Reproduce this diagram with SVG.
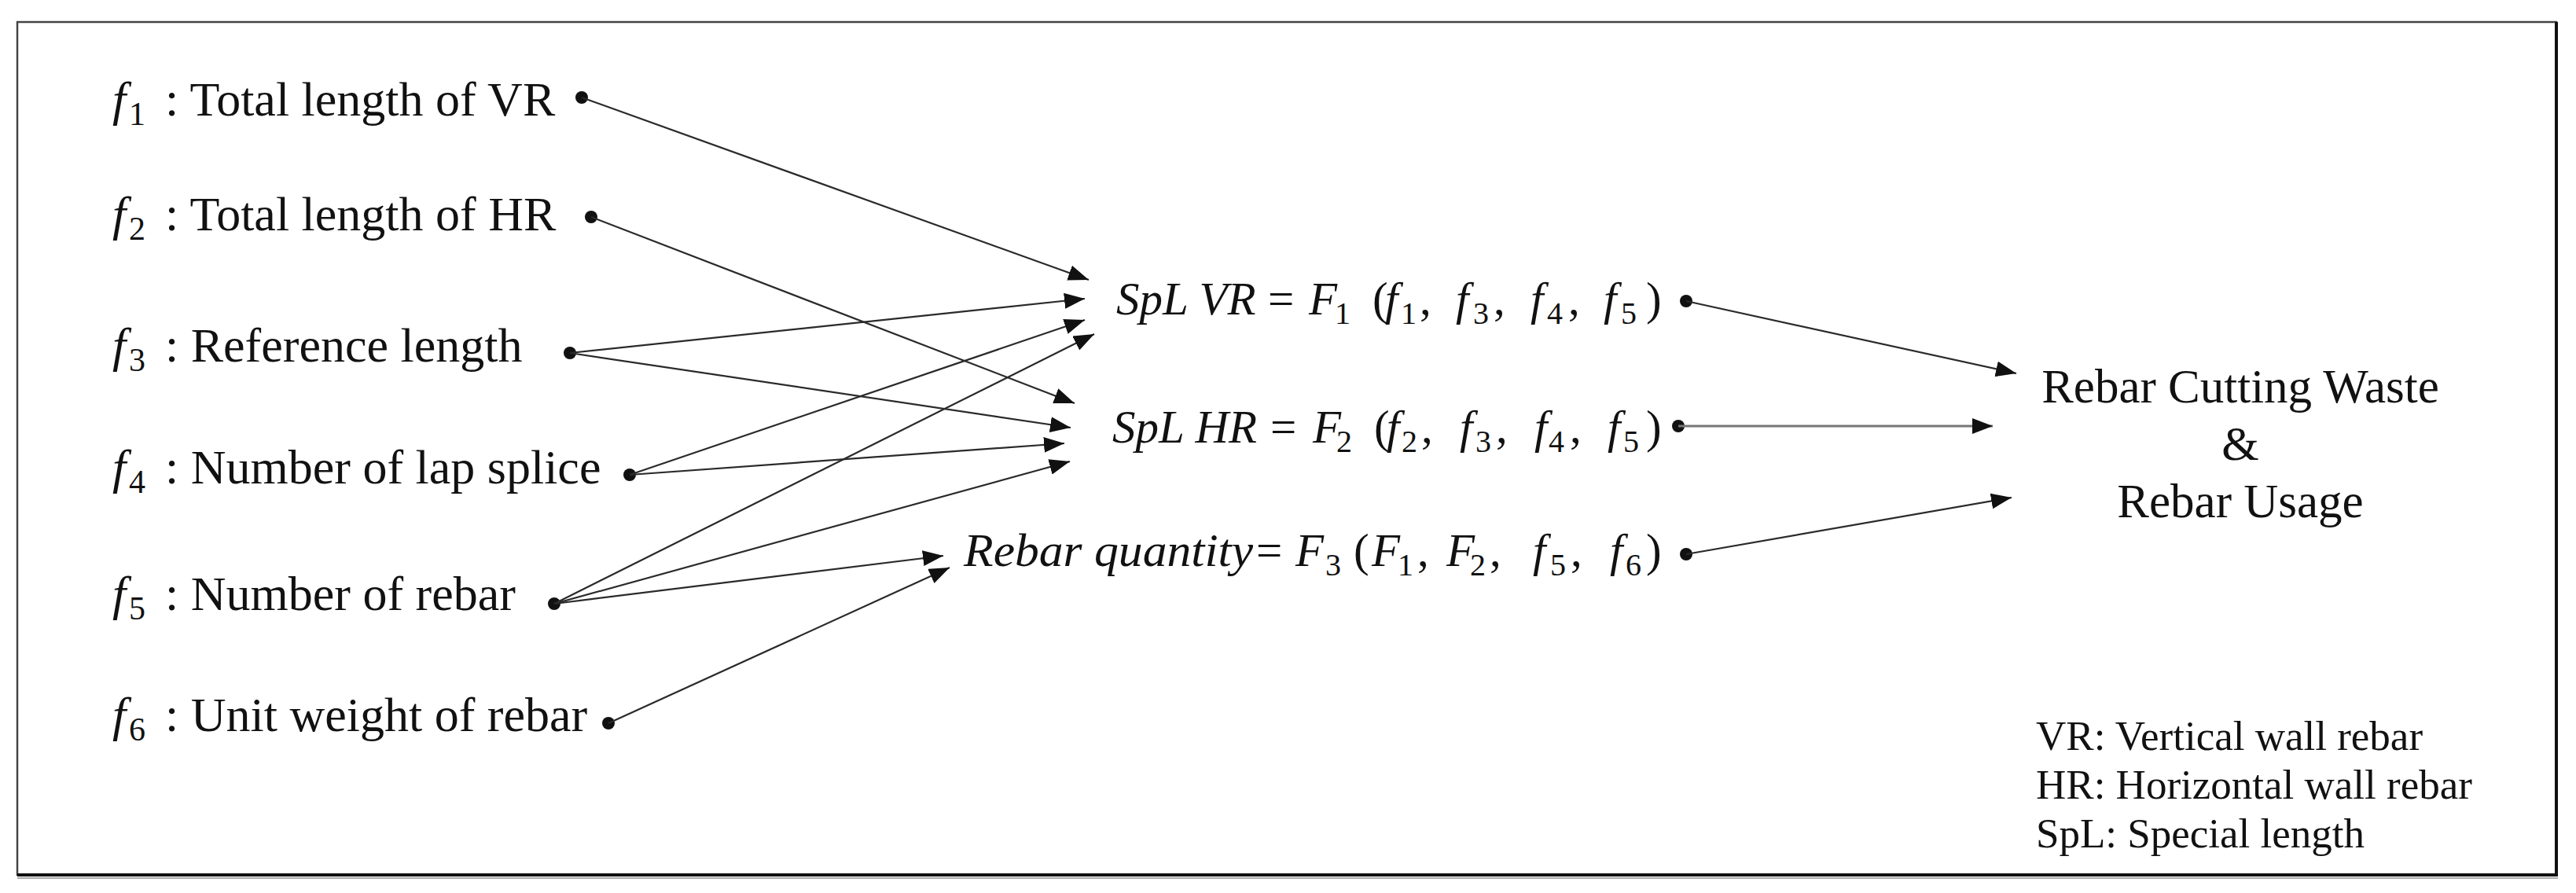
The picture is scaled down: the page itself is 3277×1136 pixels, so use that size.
<svg xmlns="http://www.w3.org/2000/svg" width="3277" height="1136" viewBox="0 0 3277 1136">
<style>
text{font-family:"Liberation Serif","Times New Roman",serif;fill:#111}
.lb{font-size:62px}
.it{font-style:italic}
.sb{font-size:42px}
.fm{font-size:59px}
.fs{font-size:40px}
.out{font-size:61px;text-anchor:middle}
.lg{font-size:53px}
.ln{stroke:#2a2a2a;stroke-width:2.2;fill:none}
.dot{fill:#111}
</style>
<defs>
<marker id="ah" markerUnits="userSpaceOnUse" markerWidth="28" markerHeight="22" refX="26" refY="10" orient="auto">
<path d="M0,0 L26,10 L0,20 z" fill="#111"/>
</marker>
</defs>
<rect x="22" y="28" width="3230" height="1085" fill="#fff" stroke="#444" stroke-width="2.5"/>
<line x1="3252" y1="28" x2="3252" y2="1115" stroke="#111" stroke-width="4"/>
<line x1="22" y1="1113" x2="3254" y2="1113" stroke="#111" stroke-width="4"/>
<line x1="22" y1="1117" x2="3254" y2="1117" stroke="#aaa" stroke-width="2"/>

<g id="f1">
<text class="lb" y="147"><tspan x="143" class="it">f</tspan><tspan x="164" y="159" class="sb">1</tspan><tspan x="210" y="147">: Total length of VR</tspan></text>
<circle class="dot" cx="740" cy="124" r="8"/>
</g>
<g id="f2">
<text class="lb" y="293"><tspan x="143" class="it">f</tspan><tspan x="164" y="305" class="sb">2</tspan><tspan x="210" y="293">: Total length of HR</tspan></text>
<circle class="dot" cx="752" cy="276" r="8"/>
</g>
<g id="f3">
<text class="lb" y="460"><tspan x="143" class="it">f</tspan><tspan x="164" y="472" class="sb">3</tspan><tspan x="210" y="460">: Reference length</tspan></text>
<circle class="dot" cx="725" cy="449" r="8"/>
</g>
<g id="f4">
<text class="lb" y="615"><tspan x="143" class="it">f</tspan><tspan x="164" y="627" class="sb">4</tspan><tspan x="210" y="615">: Number of lap splice</tspan></text>
<circle class="dot" cx="801" cy="604" r="8"/>
</g>
<g id="f5">
<text class="lb" y="776"><tspan x="143" class="it">f</tspan><tspan x="164" y="788" class="sb">5</tspan><tspan x="210" y="776">: Number of rebar</tspan></text>
<circle class="dot" cx="705" cy="768" r="8"/>
</g>
<g id="f6">
<text class="lb" y="930"><tspan x="143" class="it">f</tspan><tspan x="164" y="942" class="sb">6</tspan><tspan x="210" y="930">: Unit weight of rebar</tspan></text>
<circle class="dot" cx="774" cy="920" r="8"/>
</g>

<g id="splvr">
<text class="fm" y="400"><tspan x="1420" class="it">SpL VR</tspan><tspan x="1613">=</tspan><tspan x="1665" class="it">F</tspan><tspan x="1698" y="412" class="fs">1</tspan><tspan x="1746" y="400">(</tspan><tspan x="1762" class="it">f</tspan><tspan x="1782" y="412" class="fs">1</tspan><tspan x="1806" y="400">,</tspan><tspan x="1852" class="it">f</tspan><tspan x="1874" y="412" class="fs">3</tspan><tspan x="1900" y="400">,</tspan><tspan x="1947" class="it">f</tspan><tspan x="1968" y="412" class="fs">4</tspan><tspan x="1995" y="400">,</tspan><tspan x="2040" class="it">f</tspan><tspan x="2062" y="412" class="fs">5</tspan><tspan x="2094" y="400">)</tspan></text>
<circle class="dot" cx="2145" cy="383" r="8"/>
</g>
<g id="splhr">
<text class="fm" y="563"><tspan x="1415" class="it">SpL HR</tspan><tspan x="1616">=</tspan><tspan x="1670" class="it">F</tspan><tspan x="1700" y="575" class="fs">2</tspan><tspan x="1748" y="563">(</tspan><tspan x="1764" class="it">f</tspan><tspan x="1783" y="575" class="fs">2</tspan><tspan x="1808" y="563">,</tspan><tspan x="1857" class="it">f</tspan><tspan x="1877" y="575" class="fs">3</tspan><tspan x="1903" y="563">,</tspan><tspan x="1952" class="it">f</tspan><tspan x="1970" y="575" class="fs">4</tspan><tspan x="1997" y="563">,</tspan><tspan x="2045" class="it">f</tspan><tspan x="2065" y="575" class="fs">5</tspan><tspan x="2094" y="563">)</tspan></text>
<circle class="dot" cx="2135" cy="542" r="8"/>
</g>
<g id="rebarq">
<text class="fm" y="720"><tspan x="1226" class="it" textLength="368" lengthAdjust="spacingAndGlyphs">Rebar quantity</tspan><tspan x="1598">=</tspan><tspan x="1648" class="it">F</tspan><tspan x="1686" y="732" class="fs">3</tspan><tspan x="1722" y="720">(</tspan><tspan x="1745" class="it">F</tspan><tspan x="1778" y="732" class="fs">1</tspan><tspan x="1803" y="720">,</tspan><tspan x="1840" class="it">F</tspan><tspan x="1870" y="732" class="fs">2</tspan><tspan x="1895" y="720">,</tspan><tspan x="1950" class="it">f</tspan><tspan x="1972" y="732" class="fs">5</tspan><tspan x="1998" y="720">,</tspan><tspan x="2048" class="it">f</tspan><tspan x="2068" y="732" class="fs">6</tspan><tspan x="2094" y="720">)</tspan></text>
<circle class="dot" cx="2145" cy="705" r="8"/>
</g>

<g id="output">
<text class="out" x="2850" y="512">Rebar Cutting Waste</text>
<text class="out" x="2850" y="585">&amp;</text>
<text class="out" x="2850" y="658">Rebar Usage</text>
</g>

<g id="legend">
<text class="lg" x="2590" y="954">VR: Vertical wall rebar</text>
<text class="lg" x="2590" y="1016">HR: Horizontal wall rebar</text>
<text class="lg" x="2590" y="1078">SpL: Special length</text>
</g>

<g id="connectors" class="ln" marker-end="url(#ah)">
<line x1="740" y1="124" x2="1385" y2="356"/>
<line x1="725" y1="449" x2="1380" y2="380"/>
<line x1="801" y1="604" x2="1380" y2="407"/>
<line x1="705" y1="768" x2="1392" y2="425"/>
<line x1="752" y1="276" x2="1367" y2="513"/>
<line x1="725" y1="449" x2="1362" y2="544"/>
<line x1="801" y1="604" x2="1354" y2="564"/>
<line x1="705" y1="768" x2="1361" y2="587"/>
<line x1="705" y1="768" x2="1200" y2="707"/>
<line x1="774" y1="920" x2="1208" y2="722"/>
<line x1="2145" y1="383" x2="2565" y2="475"/>
<line x1="2135" y1="542" x2="2535" y2="542" style="stroke:#777;stroke-width:3"/>
<line x1="2145" y1="705" x2="2559" y2="633"/>
</g>
</svg>
